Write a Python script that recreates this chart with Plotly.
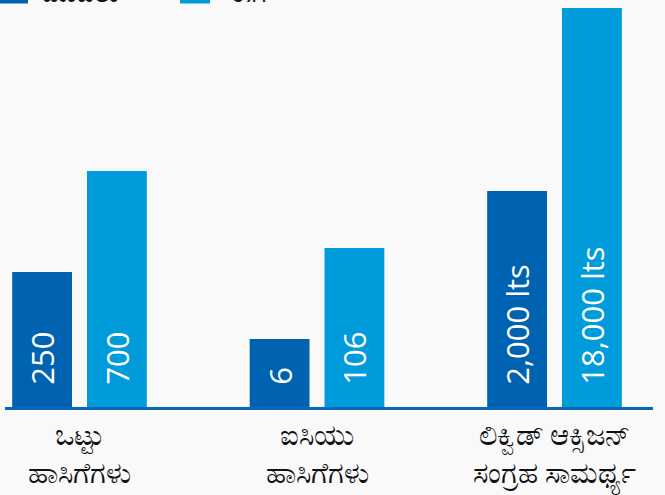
import plotly.graph_objects as go

categories = ["ಒಟ್ಟು<br>ಹಾಸಿಗೆಗಳು", "ಐಸಿಯು<br>ಹಾಸಿಗೆಗಳು", "ಲಿಕ್ವಿಡ್ ಆಕ್ಸಿಜನ್<br>ಸಂಗ್ರಹ ಸಾಮರ್ಥ್ಯ"]
series_names = ["ಮೊದಲು", "ಈಗ"]
# visual bar heights as drawn (infographic, not to scale)
before_heights = [135, 68, 216]
now_heights = [236, 159, 399]
before_labels = ["250", "6", "2,000 lts"]
now_labels = ["700", "106", "18,000 lts"]

DARK = "#0063B1"
LIGHT = "#009BDB"
PAD = "\u00a0\u00a0\u200a"

W, H = 665, 495
ML, MR, MT, MB = 5, 12, 8, 88
PW, PH = W - ML - MR, H - MT - MB

fig = go.Figure()
for name, h, lab, col in [
    (series_names[0], before_heights, before_labels, DARK),
    (series_names[1], now_heights, now_labels, LIGHT),
]:
    fig.add_trace(go.Bar(
        name=name, x=categories, y=h,
        text=[PAD + t for t in lab],
        textposition="inside", insidetextanchor="start", textangle=-90,
        textfont=dict(family="Open Sans", size=31, color="white", weight=500),
        marker=dict(color=col, line=dict(width=0)),
        cliponaxis=False, showlegend=False,
    ))

# legend (cropped at the top edge, as in the reference)
def px_x(p):
    return (p - ML) / PW

def px_y(p):
    return (H - MB - p) / PH

for (x0, x1, tx), name, col in zip([(0, 28, 40), (180, 210, 227)], series_names, [DARK, LIGHT]):
    fig.add_shape(type="rect", xref="paper", yref="paper",
                  x0=px_x(x0), x1=px_x(x1), y0=px_y(3.5), y1=px_y(-20),
                  fillcolor=col, line=dict(width=0), layer="above")
    fig.add_annotation(xref="paper", yref="paper", x=px_x(tx), y=px_y(11.5),
                       xanchor="left", yanchor="bottom", showarrow=False,
                       text=name, font=dict(size=26, color="#111", family="Noto Sans"))

fig.update_layout(
    width=W, height=H,
    margin=dict(l=ML, r=MR, t=MT, b=MB, autoexpand=False),
    paper_bgcolor="#f9f9f9", plot_bgcolor="rgba(0,0,0,0)",
    barmode="group", bargap=0.37, bargroupgap=0.2,
    showlegend=False,
    uniformtext=dict(mode=False),
)
fig.update_xaxes(
    type="category", range=[-0.3137, 2.4147],
    showline=True, linecolor="#0A66B8", linewidth=3,
    ticks="", tickfont=dict(size=29, color="#111", family="Noto Sans"),
    showgrid=False,
)
fig.update_yaxes(range=[0, 399], visible=False, showgrid=False)

fig.write_html("out.html", config={"displayModeBar": False},
               post_script="document.body.style.margin='0';document.body.style.padding='0';")
